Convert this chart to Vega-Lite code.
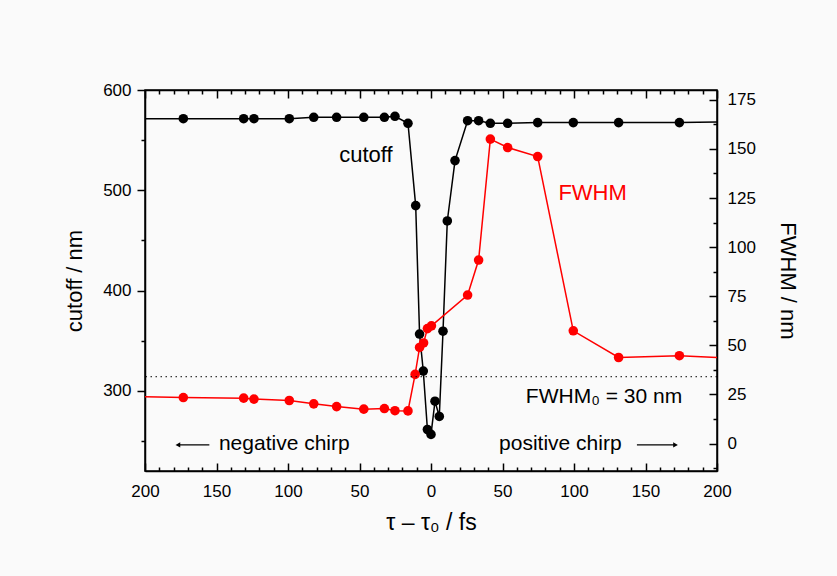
{
  "$schema": "https://vega.github.io/schema/vega-lite/v6.json",
  "width": 572,
  "height": 381,
  "padding": {"left": 63, "top": 81, "right": 38, "bottom": 42},
  "background": "#fafafa",
  "config": {
    "view": {"stroke": "black", "strokeWidth": 1.5},
    "font": "Liberation Sans",
    "axis": {
      "grid": false,
      "domainColor": "black",
      "domainWidth": 1.5,
      "tickColor": "black",
      "tickWidth": 1.5,
      "labelColor": "black",
      "labelFontSize": 17,
      "labelFont": "Liberation Sans",
      "titleFont": "Liberation Sans",
      "titleFontWeight": "normal",
      "titleFontSize": 22,
      "titleColor": "black",
      "labelFlush": false,
      "labelOverlap": false
    }
  },
  "datasets": {
    "cutoff": [
      {"t": -200, "v": 571.4},
      {"t": -173.2, "v": 571.4},
      {"t": -131, "v": 571.4},
      {"t": -123.8, "v": 571.4},
      {"t": -99.1, "v": 571.4},
      {"t": -82, "v": 572.8},
      {"t": -66, "v": 572.8},
      {"t": -47, "v": 572.8},
      {"t": -32.6, "v": 572.8},
      {"t": -25.2, "v": 573.8},
      {"t": -16.1, "v": 566.8},
      {"t": -10.7, "v": 484.7},
      {"t": -8, "v": 356.6},
      {"t": -5.4, "v": 319.7},
      {"t": -2.5, "v": 261.4},
      {"t": 0, "v": 256.5},
      {"t": 2.8, "v": 289.6},
      {"t": 5.8, "v": 274.4},
      {"t": 8.4, "v": 359.4},
      {"t": 11.4, "v": 469.4},
      {"t": 16.8, "v": 529.6},
      {"t": 25.6, "v": 569.4},
      {"t": 33.3, "v": 569.4},
      {"t": 41.5, "v": 566.8},
      {"t": 53.6, "v": 566.8},
      {"t": 74.6, "v": 567.5},
      {"t": 99.5, "v": 567.5},
      {"t": 131.2, "v": 567.5},
      {"t": 173.7, "v": 567.5},
      {"t": 200, "v": 568.1}
    ],
    "fwhm": [
      {"t": -200, "v": 23.8},
      {"t": -173.2, "v": 23.4},
      {"t": -131, "v": 23.1},
      {"t": -123.8, "v": 22.6},
      {"t": -99.1, "v": 21.9},
      {"t": -82, "v": 20.2},
      {"t": -66, "v": 18.8},
      {"t": -47, "v": 17.5},
      {"t": -32.6, "v": 17.8},
      {"t": -25.2, "v": 16.7},
      {"t": -16.1, "v": 16.6},
      {"t": -11.1, "v": 35.2},
      {"t": -8, "v": 48.9},
      {"t": -5.2, "v": 51.2},
      {"t": -2.5, "v": 58.5},
      {"t": 0.3, "v": 59.9},
      {"t": 25.6, "v": 75.6},
      {"t": 33.3, "v": 93.4},
      {"t": 41.5, "v": 155},
      {"t": 53.6, "v": 150.7},
      {"t": 74.6, "v": 146.1},
      {"t": 99.5, "v": 57.4},
      {"t": 131.2, "v": 43.8},
      {"t": 173.7, "v": 44.7},
      {"t": 200, "v": 43.8}
    ],
    "cutLabel": [{"t": -45.5, "v": 528.2, "label": "cutoff"}],
    "fwhmLabel": [{"t": 113, "v": 124.1, "label": "FWHM"}],
    "refLine": [{"v": 34}],
    "fwhm0Label": [{"t": 121, "v": 20.7, "label": "FWHM₀ = 30 nm"}],
    "chirpLabels": [
      {"t": -148.3, "v": -3.2, "label": "negative chirp"},
      {"t": 47.6, "v": -3.2, "label": "positive chirp"}
    ],
    "arrows": [
      {"t": -177, "t2": -155, "v": -0.7},
      {"t": 144, "t2": 171, "v": -0.7}
    ],
    "headLeft": [{"t": -177, "v": -0.7}],
    "headRight": [{"t": 171, "v": -0.7}]
  },
  "layer": [
    {
      "layer": [
        {
          "data": {"name": "cutoff"},
          "mark": {"type": "line", "color": "black", "strokeWidth": 1.5},
          "encoding": {
            "x": {"field": "t", "type": "quantitative", "scale": {"domain": [-200, 200], "nice": false, "zero": false},
              "axis": {"orient": "bottom", "values": [-200, -150, -100, -50, 0, 50, 100, 150, 200], "tickSize": -8, "labelPadding": 20, "labelExpr": "'' + abs(datum.value)", "title": "τ – τ₀ / fs", "titleFontSize": 23, "titlePadding": 12}},
            "y": {"field": "v", "type": "quantitative", "scale": {"domain": [220, 600], "nice": false, "zero": false},
              "axis": {"orient": "left", "values": [300, 400, 500, 600], "tickSize": 8, "labelPadding": 6, "title": "cutoff / nm", "titlePadding": 16}}
          }
        },
        {
          "data": {"name": "cutoff"},
          "transform": [{"filter": "datum.t > -200 && datum.t < 200"}],
          "mark": {"type": "point", "filled": true, "color": "black", "size": 92, "opacity": 1},
          "encoding": {
            "x": {"field": "t", "type": "quantitative", "scale": {"domain": [-200, 200], "nice": false, "zero": false},
              "axis": {"orient": "bottom", "values": [-190, -180, -170, -160, -140, -130, -120, -110, -90, -80, -70, -60, -40, -30, -20, -10, 10, 20, 30, 40, 60, 70, 80, 90, 110, 120, 130, 140, 160, 170, 180, 190], "tickSize": -4, "labels": false, "domain": false, "title": null}},
            "y": {"field": "v", "type": "quantitative", "scale": {"domain": [220, 600], "nice": false, "zero": false},
              "axis": {"orient": "left", "values": [250, 350, 450, 550], "tickSize": 4, "labels": false, "domain": false, "title": null}}
          }
        },
        {
          "data": {"name": "cutLabel"},
          "mark": {"type": "text", "color": "black", "fontSize": 22, "align": "center", "baseline": "alphabetic"},
          "encoding": {
            "x": {"field": "t", "type": "quantitative", "scale": {"domain": [-200, 200], "nice": false, "zero": false}, "axis": null},
            "y": {"field": "v", "type": "quantitative", "scale": {"domain": [220, 600], "nice": false, "zero": false}, "axis": null},
            "text": {"field": "label"}
          }
        }
      ],
      "resolve": {"axis": {"x": "independent", "y": "independent"}}
    },
    {
      "layer": [
        {
          "data": {"name": "fwhm"},
          "mark": {"type": "line", "color": "#ff0000", "strokeWidth": 1.5},
          "encoding": {
            "x": {"field": "t", "type": "quantitative", "scale": {"domain": [-200, 200], "nice": false, "zero": false},
              "axis": {"orient": "top", "values": [-200, -150, -100, -50, 0, 50, 100, 150, 200], "tickSize": -8, "labels": false, "title": null}},
            "y": {"field": "v", "type": "quantitative", "scale": {"domain": [-14, 180], "nice": false, "zero": false},
              "axis": {"orient": "right", "values": [0, 25, 50, 75, 100, 125, 150, 175], "tickSize": -8, "labelPadding": 18, "title": "FWHM / nm", "titlePadding": 20}}
          }
        },
        {
          "data": {"name": "fwhm"},
          "transform": [{"filter": "datum.t > -200 && datum.t < 200"}],
          "mark": {"type": "point", "filled": true, "color": "#ff0000", "size": 92, "opacity": 1},
          "encoding": {
            "x": {"field": "t", "type": "quantitative", "scale": {"domain": [-200, 200], "nice": false, "zero": false},
              "axis": {"orient": "top", "values": [-190, -180, -170, -160, -140, -130, -120, -110, -90, -80, -70, -60, -40, -30, -20, -10, 10, 20, 30, 40, 60, 70, 80, 90, 110, 120, 130, 140, 160, 170, 180, 190], "tickSize": -4, "labels": false, "domain": false, "title": null}},
            "y": {"field": "v", "type": "quantitative", "scale": {"domain": [-14, 180], "nice": false, "zero": false},
              "axis": {"orient": "right", "values": [-12.5, 12.5, 37.5, 62.5, 87.5, 112.5, 137.5, 162.5], "tickSize": -4, "labels": false, "domain": false, "title": null}}
          }
        },
        {
          "data": {"name": "refLine"},
          "mark": {"type": "rule", "color": "black", "strokeWidth": 1, "strokeDash": [1.5, 3.5]},
          "encoding": {
            "y": {"field": "v", "type": "quantitative", "scale": {"domain": [-14, 180], "nice": false, "zero": false}, "axis": null}
          }
        },
        {
          "data": {"name": "fwhmLabel"},
          "mark": {"type": "text", "color": "#ff0000", "fontSize": 22, "align": "center", "baseline": "alphabetic"},
          "encoding": {
            "x": {"field": "t", "type": "quantitative", "scale": {"domain": [-200, 200], "nice": false, "zero": false}, "axis": null},
            "y": {"field": "v", "type": "quantitative", "scale": {"domain": [-14, 180], "nice": false, "zero": false}, "axis": null},
            "text": {"field": "label"}
          }
        },
        {
          "data": {"name": "fwhm0Label"},
          "mark": {"type": "text", "color": "black", "fontSize": 21, "align": "center", "baseline": "alphabetic"},
          "encoding": {
            "x": {"field": "t", "type": "quantitative", "scale": {"domain": [-200, 200], "nice": false, "zero": false}, "axis": null},
            "y": {"field": "v", "type": "quantitative", "scale": {"domain": [-14, 180], "nice": false, "zero": false}, "axis": null},
            "text": {"field": "label"}
          }
        },
        {
          "data": {"name": "chirpLabels"},
          "mark": {"type": "text", "color": "black", "fontSize": 21, "align": "left", "baseline": "alphabetic"},
          "encoding": {
            "x": {"field": "t", "type": "quantitative", "scale": {"domain": [-200, 200], "nice": false, "zero": false}, "axis": null},
            "y": {"field": "v", "type": "quantitative", "scale": {"domain": [-14, 180], "nice": false, "zero": false}, "axis": null},
            "text": {"field": "label"}
          }
        },
        {
          "data": {"name": "arrows"},
          "mark": {"type": "rule", "color": "black", "strokeWidth": 1.2},
          "encoding": {
            "x": {"field": "t", "type": "quantitative", "scale": {"domain": [-200, 200], "nice": false, "zero": false}, "axis": null},
            "x2": {"field": "t2"},
            "y": {"field": "v", "type": "quantitative", "scale": {"domain": [-14, 180], "nice": false, "zero": false}, "axis": null}
          }
        },
        {
          "data": {"name": "headLeft"},
          "mark": {"type": "point", "shape": "triangle-left", "filled": true, "color": "black", "size": 30, "opacity": 1},
          "encoding": {
            "x": {"field": "t", "type": "quantitative", "scale": {"domain": [-200, 200], "nice": false, "zero": false}, "axis": null},
            "y": {"field": "v", "type": "quantitative", "scale": {"domain": [-14, 180], "nice": false, "zero": false}, "axis": null}
          }
        },
        {
          "data": {"name": "headRight"},
          "mark": {"type": "point", "shape": "triangle-right", "filled": true, "color": "black", "size": 30, "opacity": 1},
          "encoding": {
            "x": {"field": "t", "type": "quantitative", "scale": {"domain": [-200, 200], "nice": false, "zero": false}, "axis": null},
            "y": {"field": "v", "type": "quantitative", "scale": {"domain": [-14, 180], "nice": false, "zero": false}, "axis": null}
          }
        }
      ],
      "resolve": {"axis": {"x": "independent", "y": "independent"}}
    }
  ],
  "resolve": {"scale": {"y": "independent"}, "axis": {"x": "independent", "y": "independent"}}
}
